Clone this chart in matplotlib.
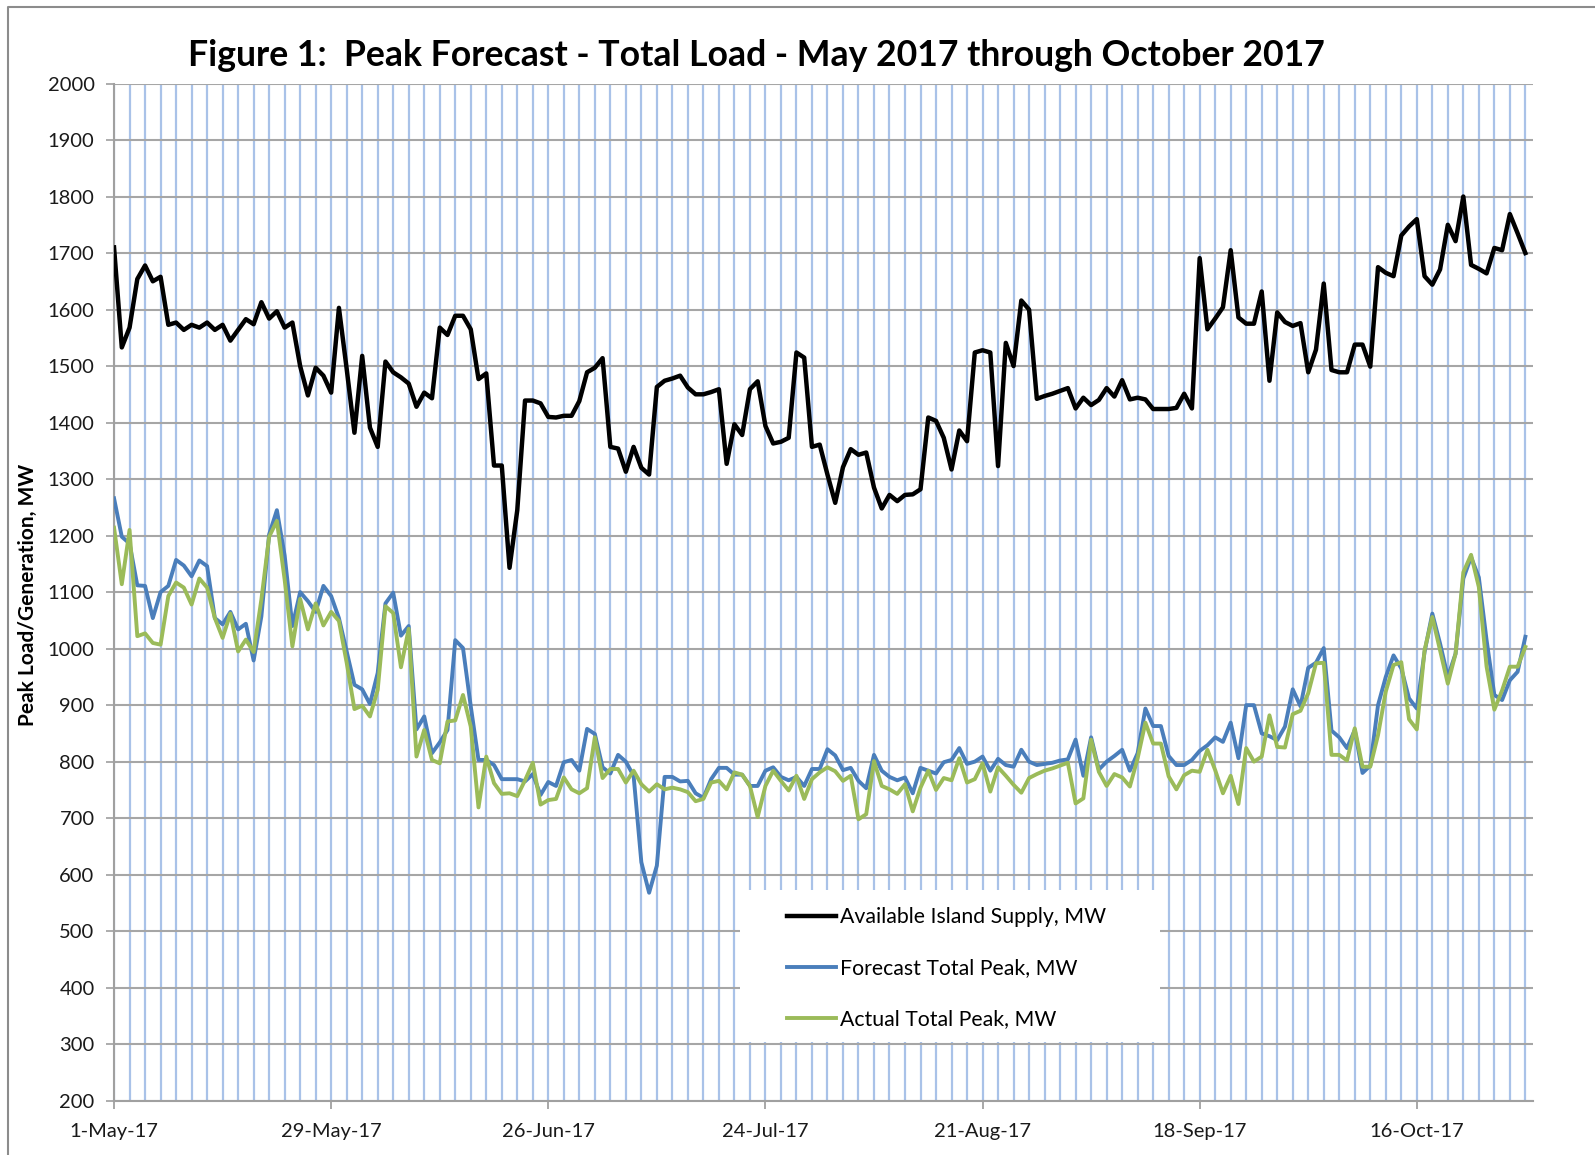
import pandas as pd
import matplotlib
matplotlib.use("Agg")
import matplotlib.pyplot as plt
import matplotlib.dates as mdates
from matplotlib.ticker import FixedLocator, FuncFormatter, MultipleLocator
from matplotlib.patches import Rectangle
from matplotlib.lines import Line2D

plt.rcParams['font.family'] = ['Lato', 'DejaVu Sans']

# daily values, 1-May-17 .. 30-Oct-17
dates = pd.date_range("2017-05-01", "2017-10-30", freq="D")

supply = [1710, 1533, 1568, 1654, 1678, 1650, 1658, 1573, 1577, 1564,
          1573, 1568, 1577, 1564, 1573, 1545, 1564, 1583, 1574, 1613,
          1584, 1597, 1568, 1577, 1500, 1448, 1497, 1483, 1453, 1603,
          1495, 1382, 1518, 1391, 1357, 1508, 1489, 1480, 1469, 1428,
          1453, 1443, 1568, 1555, 1589, 1589, 1565, 1477, 1487, 1324,
          1324, 1143, 1245, 1439, 1439, 1434, 1410, 1409, 1412, 1412,
          1438, 1489, 1497, 1514, 1357, 1354, 1313, 1357, 1320, 1308,
          1463, 1474, 1478, 1483, 1462, 1450, 1450, 1454, 1459, 1327,
          1397, 1378, 1459, 1473, 1394, 1363, 1366, 1373, 1524, 1515,
          1357, 1361, 1308, 1258, 1321, 1353, 1343, 1347, 1285, 1248,
          1272, 1261, 1272, 1273, 1282, 1409, 1403, 1373, 1317, 1386,
          1367, 1524, 1528, 1524, 1323, 1541, 1500, 1616, 1600, 1442,
          1447, 1451, 1456, 1461, 1425, 1444, 1431, 1440, 1461, 1446,
          1475, 1441, 1444, 1441, 1424, 1424, 1424, 1426, 1451, 1425,
          1691, 1565, 1584, 1604, 1705, 1586, 1575, 1575, 1632, 1474,
          1595, 1578, 1571, 1576, 1489, 1529, 1646, 1493, 1489, 1489,
          1538, 1538, 1499, 1675, 1665, 1659, 1731, 1747, 1760, 1659,
          1644, 1671, 1750, 1721, 1800, 1679, 1672, 1664, 1709, 1705,
          1769, 1735, 1700]

forecast = [1266, 1198, 1186, 1112, 1111, 1054, 1100, 1111, 1157, 1147,
            1128, 1156, 1146, 1054, 1043, 1065, 1034, 1044, 979, 1057,
            1202, 1245, 1165, 1040, 1100, 1084, 1065, 1111, 1093, 1054,
            995, 936, 928, 902, 957, 1080, 1099, 1023, 1040, 857,
            880, 815, 834, 856, 1015, 1001, 898, 803, 803, 794,
            769, 769, 769, 765, 778, 741, 764, 757, 799, 803,
            784, 858, 849, 790, 779, 812, 800, 775, 622, 568,
            616, 773, 773, 765, 766, 744, 736, 769, 789, 789,
            777, 777, 757, 757, 784, 790, 773, 767, 773, 757,
            787, 787, 822, 811, 785, 789, 766, 753, 812, 784,
            773, 767, 772, 744, 789, 784, 779, 799, 803, 824,
            796, 800, 809, 784, 805, 794, 791, 821, 800, 794,
            796, 798, 802, 804, 839, 775, 843, 786, 800, 810,
            821, 784, 815, 894, 863, 863, 810, 794, 794, 803,
            819, 829, 843, 835, 869, 806, 900, 900, 850, 845,
            838, 862, 928, 898, 966, 975, 1001, 855, 843, 824,
            856, 780, 793, 900, 950, 988, 965, 912, 894, 994,
            1062, 1009, 950, 991, 1124, 1162, 1126, 1015, 918, 909,
            944, 959, 1021]

actual = [1214, 1114, 1210, 1022, 1027, 1010, 1007, 1093, 1117, 1108,
          1078, 1124, 1108, 1054, 1019, 1062, 995, 1016, 994, 1087,
          1198, 1226, 1122, 1004, 1088, 1034, 1080, 1041, 1065, 1049,
          975, 893, 899, 880, 927, 1075, 1063, 967, 1035, 809,
          856, 803, 797, 871, 873, 918, 862, 719, 809, 762,
          743, 744, 739, 767, 798, 724, 732, 734, 772, 751,
          744, 753, 843, 771, 787, 787, 763, 784, 760, 747,
          760, 751, 754, 751, 746, 730, 734, 763, 766, 751,
          781, 777, 757, 702, 757, 784, 766, 749, 775, 734,
          769, 781, 790, 783, 766, 775, 698, 707, 801, 757,
          751, 743, 760, 712, 754, 784, 750, 771, 767, 806,
          763, 769, 797, 747, 790, 775, 759, 745, 771, 778,
          784, 788, 793, 798, 726, 735, 839, 782, 757, 778,
          772, 756, 806, 869, 832, 832, 774, 751, 776, 784,
          782, 821, 785, 744, 775, 725, 824, 800, 809, 882,
          826, 825, 884, 890, 921, 974, 975, 812, 812, 802,
          859, 791, 791, 847, 924, 971, 976, 875, 857, 997,
          1056, 997, 938, 991, 1135, 1166, 1109, 968, 892, 926,
          968, 968, 1003]

labels = ["Available Island Supply, MW", "Forecast Total Peak, MW", "Actual Total Peak, MW"]
colors = ["#000000", "#4a7ebb", "#9bbb59"]

fig = plt.figure(figsize=(15.95, 11.55), dpi=100)
ax = fig.add_axes([0.0715, 0.047, 0.8897, 0.8807])

ax.plot(dates, supply, color=colors[0], lw=3.2, label=labels[0], zorder=3, solid_joinstyle='round')
ax.plot(dates, forecast, color=colors[1], lw=2.8, label=labels[1], zorder=3, solid_joinstyle='round')
ax.plot(dates, actual, color=colors[2], lw=2.8, label=labels[2], zorder=3, solid_joinstyle='round')

ax.set_xlim(dates[0], pd.Timestamp("2017-10-31"))
ax.set_ylim(200, 2000)

major = pd.date_range("2017-05-01", periods=7, freq="28D")
minor = pd.date_range("2017-05-01", "2017-10-31", freq="2D")
ax.xaxis.set_major_locator(FixedLocator(mdates.date2num(major)))
ax.xaxis.set_minor_locator(FixedLocator(mdates.date2num(minor)))
ax.xaxis.set_major_formatter(FuncFormatter(
    lambda v, p: "{}-{}".format(mdates.num2date(v).day, mdates.num2date(v).strftime("%b-%y"))))
ax.yaxis.set_major_locator(MultipleLocator(100))

ax.set_axisbelow(True)
ax.grid(axis='x', which='both', color='#a9c2e8', lw=1.6)
ax.grid(axis='y', which='major', color='#a6a6a6', lw=1.5)

for s in ['top', 'right']:
    ax.spines[s].set_visible(False)
for s in ['left', 'bottom']:
    ax.spines[s].set_color('#a0a0a0')
    ax.spines[s].set_linewidth(1.5)

ax.tick_params(axis='x', which='major', length=6, width=1.3, color='#a0a0a0',
               labelsize=14.5, pad=10, labelcolor='#1a1a1a')
ax.tick_params(axis='x', which='minor', length=0)
ax.tick_params(axis='y', length=6, width=1.3, color='#a6a6a6',
               labelsize=14.5, pad=8, labelcolor='#1a1a1a')

# white legend area over the grid
ax.add_patch(Rectangle((0.441, 0.0577), 0.296, 0.149, transform=ax.transAxes,
                       facecolor='white', edgecolor='none', zorder=2))
ax.legend(loc='upper left', bbox_to_anchor=(0.4743, 0.190), frameon=False,
          fontsize=15.3, handlelength=2.3, handletextpad=0.2, labelspacing=1.45,
          borderpad=0, borderaxespad=0)

fig.text(0.474, 0.952, "Figure 1:  Peak Forecast - Total Load - May 2017 through October 2017",
         ha='center', va='center', fontsize=25.7, fontweight='bold')
fig.text(27.5 / 1595, 1 - 595 / 1155, "Peak Load/Generation, MW", rotation=90,
         ha='center', va='center', fontsize=15, fontweight='bold')

# chart frame (top and left edges visible)
fig.add_artist(Line2D([8 / 1595, 8 / 1595, 1.0], [0.0, 1 - 7 / 1155, 1 - 7 / 1155],
                      transform=fig.transFigure, color='#8c8c8c', lw=1.5))

fig.savefig("out.png", dpi=100)
